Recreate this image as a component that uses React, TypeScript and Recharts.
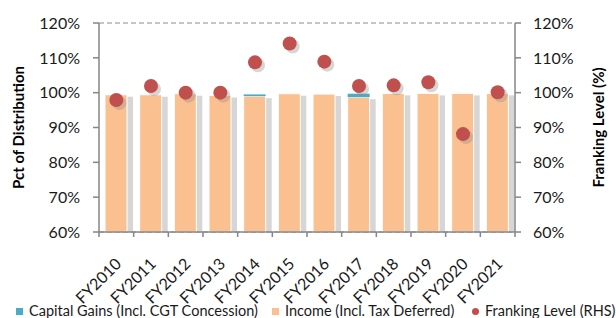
import React from "react";
import {
  ComposedChart,
  Bar,
  Line,
  XAxis,
  YAxis,
  CartesianGrid,
  Legend,
} from "recharts";

// Values (percent)
const years = [
  "FY2010", "FY2011", "FY2012", "FY2013", "FY2014", "FY2015",
  "FY2016", "FY2017", "FY2018", "FY2019", "FY2020", "FY2021",
];
const income = [99.4, 99.4, 99.7, 99.2, 99.0, 99.7, 99.6, 98.7, 99.8, 99.8, 99.8, 99.8];
const capitalGains = [0, 0, 0, 0, 0.5, 0, 0, 1.0, 0, 0, 0, 0];
const franking = [97.9, 101.9, 100.0, 100.0, 108.7, 114.1, 108.9, 101.9, 102.1, 103.0, 88.1, 100.1];
const yTicks = [60, 70, 80, 90, 100, 110, 120];

const FONT = "Lato, 'Open Sans', sans-serif";
const AXIS = "#868686";
const ORANGE = "#FAC090";
const CYAN = "#4BACC6";
const RED = "#C0504D";

const chartData = years.map((year, i) => ({
  year,
  income: income[i],
  capitalGains: capitalGains[i],
  franking: franking[i],
}));

const HALF_BAND = 416 / years.length / 2;

const ShadowBar = (props: any) => {
  const { x, y, width, height, fill } = props;
  if (!height || height <= 0) return null;
  return (
    <g>
      <rect x={x + 6} y={y + 2} width={width} height={height} fill="#c4c4c4" opacity={0.7} />
      <rect x={x} y={y} width={width} height={height} fill={fill} stroke="#fff" strokeWidth={1} />
    </g>
  );
};

const PlainBar = (props: any) => {
  const { x, y, width, height, fill } = props;
  if (!height || height <= 0) return null;
  return <rect x={x} y={y} width={width} height={height} fill={fill} />;
};

const FrankingDot = (props: any) => {
  const { cx, cy, index } = props;
  if (cx == null || cy == null) return null;
  return (
    <g key={`dot-${index}`}>
      <circle cx={cx + 3} cy={cy + 3} r={7} fill="#8a8a8a" opacity={0.35} />
      <circle cx={cx} cy={cy} r={7} fill={RED} />
    </g>
  );
};

const XTick = (props: any) => {
  const { x, y, payload, index } = props;
  const tx = x + 6;
  const ty = y + 33;
  return (
    <g>
      <line x1={x - HALF_BAND} x2={x - HALF_BAND} y1={y} y2={y + 5} stroke={AXIS} strokeWidth={1.5} />
      {index === years.length - 1 && (
        <line x1={x + HALF_BAND} x2={x + HALF_BAND} y1={y} y2={y + 5} stroke={AXIS} strokeWidth={1.5} />
      )}
      <text
        x={tx}
        y={ty}
        transform={`rotate(-45, ${tx}, ${ty})`}
        textAnchor="end"
        fontFamily={FONT}
        fontSize={16}
        fill="#1a1a1a"
      >
        {payload.value}
      </text>
    </g>
  );
};

const AxisTitle = (props: any) => {
  const { viewBox, text, offsetX } = props;
  const cx = viewBox.x + offsetX;
  const cy = viewBox.y + viewBox.height / 2;
  return (
    <text
      x={cx}
      y={cy}
      transform={`rotate(-90, ${cx}, ${cy})`}
      textAnchor="middle"
      dominantBaseline="central"
      fontFamily={FONT}
      fontWeight="bold"
      fontSize={15}
      fill="#000"
    >
      {text}
    </text>
  );
};

const legendItems = [
  { label: "Capital Gains (Incl. CGT Concession)", color: CYAN, shape: "square", left: 16 },
  { label: "Income (Incl. Tax Deferred)", color: ORANGE, shape: "square", left: 272 },
  { label: "Franking Level (RHS)", color: RED, shape: "circle", left: 472 },
];

const ChartLegend = () => (
  <div style={{ position: "relative", width: 616, height: 18, overflow: "visible" }}>
    {legendItems.map((item) => (
      <div
        key={item.label}
        style={{
          position: "absolute",
          left: item.left,
          top: 2,
          display: "flex",
          alignItems: "center",
          whiteSpace: "nowrap",
          fontFamily: FONT,
          fontSize: 14.5,
          color: "#1a1a1a",
          lineHeight: "18px",
        }}
      >
        <span
          style={{
            display: "inline-block",
            width: 7,
            height: 7,
            background: item.color,
            borderRadius: item.shape === "circle" ? "50%" : 0,
            marginRight: 6,
          }}
        />
        {item.label}
      </div>
    ))}
  </div>
);

export default function App() {
  return (
    <div style={{ position: "absolute", left: 0, top: 0, width: 616, height: 318, overflow: "hidden", background: "#fff" }}>
      <ComposedChart
        width={616}
        height={318}
        data={chartData}
        margin={{ top: 23, right: 0, bottom: 0, left: 0 }}
        barSize={22}
      >
        <CartesianGrid vertical={false} stroke="#8c8c8c" strokeDasharray="5 3" />
        <XAxis
          dataKey="year"
          height={68}
          axisLine={{ stroke: AXIS, strokeWidth: 1.5 }}
          tickLine={false}
          tickSize={0}
          tickMargin={0}
          interval={0}
          tick={<XTick />}
        />
        <YAxis
          yAxisId="left"
          width={99}
          domain={[60, 120]}
          ticks={yTicks}
          allowDataOverflow
          tickFormatter={(v: number) => `${v}%`}
          axisLine={{ stroke: AXIS, strokeWidth: 1.5 }}
          tickLine={{ stroke: AXIS, strokeWidth: 1.5 }}
          tickSize={6}
          tickMargin={13}
          tick={{ fontFamily: FONT, fontSize: 16, fill: "#1a1a1a" }}
          label={<AxisTitle text="Pct of Distribution" offsetX={18} />}
        />
        <YAxis
          yAxisId="right"
          orientation="right"
          width={101}
          domain={[60, 120]}
          ticks={yTicks}
          allowDataOverflow
          tickFormatter={(v: number) => `${v}%`}
          axisLine={{ stroke: AXIS, strokeWidth: 1.5 }}
          tickLine={{ stroke: AXIS, strokeWidth: 1.5 }}
          tickSize={6}
          tickMargin={12}
          tick={{ fontFamily: FONT, fontSize: 16, fill: "#1a1a1a", textAnchor: "start" }}
          label={<AxisTitle text="Franking Level (%)" offsetX={83} />}
        />
        <Bar
          yAxisId="left"
          dataKey="income"
          stackId="dist"
          fill={ORANGE}
          shape={<ShadowBar />}
          isAnimationActive={false}
        />
        <Bar
          yAxisId="left"
          dataKey="capitalGains"
          stackId="dist"
          fill={CYAN}
          shape={<PlainBar />}
          isAnimationActive={false}
        />
        <Line
          yAxisId="right"
          dataKey="franking"
          stroke="none"
          dot={<FrankingDot />}
          activeDot={false}
          isAnimationActive={false}
        />
        <Legend verticalAlign="bottom" wrapperStyle={{ left: 0, bottom: 0 }} content={() => <ChartLegend />} />
      </ComposedChart>
    </div>
  );
}
